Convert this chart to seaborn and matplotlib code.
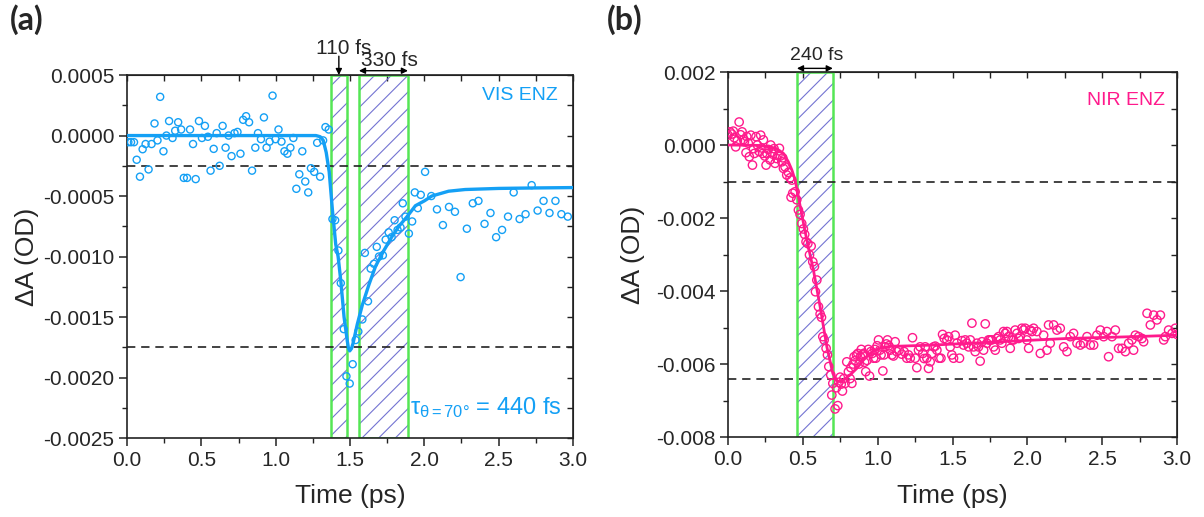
import numpy as np
import matplotlib
matplotlib.use("Agg")
import matplotlib.pyplot as plt
import seaborn as sns
from matplotlib.ticker import MultipleLocator, FormatStrFormatter

# ---- data (values in mOD, times in ps) ----
vis_t = [0.009, 0.027, 0.047, 0.065, 0.087, 0.105, 0.125, 0.145, 0.165, 0.185,
         0.205, 0.223, 0.245, 0.265, 0.283, 0.306, 0.324, 0.344, 0.364, 0.382,
         0.404, 0.424, 0.444, 0.462, 0.484, 0.504, 0.524, 0.544, 0.562, 0.583,
         0.603, 0.623, 0.643, 0.663, 0.683, 0.703, 0.723, 0.743, 0.763, 0.781,
         0.801, 0.821, 0.841, 0.863, 0.881, 0.901, 0.921, 0.939, 0.959, 0.979,
         0.999, 1.019, 1.039, 1.059, 1.079, 1.099, 1.119, 1.139, 1.159, 1.179,
         1.199, 1.219, 1.237, 1.259, 1.279, 1.299, 1.319, 1.335, 1.357, 1.382,
         1.400, 1.422, 1.438, 1.458, 1.476, 1.498, 1.518, 1.538, 1.556, 1.583,
         1.600, 1.621, 1.639, 1.661, 1.680, 1.695, 1.721, 1.740, 1.760, 1.780,
         1.800, 1.820, 1.840, 1.855, 1.873, 1.896, 1.918, 1.936, 1.956, 1.976,
         2.005, 2.047, 2.085, 2.125, 2.166, 2.206, 2.244, 2.286, 2.326, 2.364,
         2.405, 2.445, 2.483, 2.523, 2.563, 2.601, 2.641, 2.681, 2.722, 2.762,
         2.802, 2.842, 2.882, 2.922, 2.965]
vis_dA = [-0.055, -0.055, -0.055, -0.20, -0.34, -0.113, -0.07, -0.28, -0.07, 0.10,
          -0.04, 0.32, -0.13, 0.00, 0.12, -0.02, 0.04, 0.11, 0.05, -0.35,
          -0.35, 0.05, -0.07, -0.36, 0.12, -0.02, 0.08, -0.01, -0.29, -0.11,
          0.02, -0.25, 0.08, -0.10, 0.00, -0.17, 0.02, 0.03, -0.15, 0.13,
          0.16, 0.11, -0.29, -0.10, 0.02, -0.03, 0.15, -0.10, -0.05, 0.33,
          -0.03, 0.05, -0.05, -0.13, -0.15, -0.10, -0.02, -0.44, -0.32, -0.13,
          -0.38, -0.47, -0.27, -0.30, -0.06, -0.34, -0.04, 0.07, 0.05, -0.69,
          -0.70, -0.95, -1.22, -1.60, -1.99, -2.05, -1.89, -1.69, -1.62, -1.52,
          -0.97, -1.37, -1.10, -1.06, -0.92, -1.00, -0.99, -0.86, -0.80, -0.84,
          -0.70, -0.78, -0.76, -0.56, -0.67, -0.81, -0.71, -0.47, -0.60, -0.49,
          -0.30, -0.50, -0.61, -0.74, -0.59, -0.63, -1.17, -0.77, -0.56, -0.54,
          -0.73, -0.64, -0.84, -0.78, -0.67, -0.47, -0.69, -0.65, -0.41, -0.62,
          -0.54, -0.64, -0.54, -0.65, -0.67]

vis_fit_t = [0.0, 1.27, 1.28, 1.30, 1.32, 1.34, 1.36, 1.382, 1.404, 1.42, 1.438,
             1.46, 1.482, 1.49, 1.498, 1.51, 1.52, 1.549, 1.583, 1.628, 1.672,
             1.728, 1.78, 1.829, 1.884, 1.94, 2.0, 2.05, 2.163, 2.275, 2.5, 2.75, 3.0]
vis_fit = [0.0, 0.0, -0.003, -0.01, -0.04, -0.14, -0.30, -0.62, -0.90, -1.00, -1.20,
           -1.50, -1.70, -1.76, -1.78, -1.76, -1.72, -1.56, -1.40, -1.23, -1.08,
           -0.95, -0.84, -0.75, -0.67, -0.58, -0.54, -0.50, -0.46, -0.446, -0.437, -0.433, -0.43]

nir_t = [0.000, 0.013, 0.025, 0.035, 0.042, 0.051, 0.062, 0.074, 0.084, 0.094,
         0.104, 0.109, 0.120, 0.125, 0.135, 0.142, 0.152, 0.163, 0.170, 0.176,
         0.187, 0.196, 0.209, 0.218, 0.225, 0.232, 0.236, 0.245, 0.254, 0.259,
         0.268, 0.281, 0.285, 0.292, 0.299, 0.307, 0.314, 0.325, 0.333, 0.343,
         0.350, 0.359, 0.365, 0.370, 0.381, 0.392, 0.403, 0.414, 0.421, 0.426,
         0.432, 0.448, 0.459, 0.470, 0.481, 0.492, 0.503, 0.512, 0.521, 0.533,
         0.544, 0.555, 0.566, 0.577, 0.584, 0.593, 0.604, 0.615, 0.624, 0.633,
         0.642, 0.655, 0.664, 0.673, 0.686, 0.693, 0.700, 0.715, 0.724, 0.733,
         0.740, 0.749, 0.756, 0.764, 0.773, 0.782, 0.793, 0.804, 0.815, 0.820,
         0.827, 0.835, 0.842, 0.850, 0.858, 0.867, 0.875, 0.884, 0.890, 0.898,
         0.905, 0.912, 0.920, 0.928, 0.937, 0.945, 0.954, 0.963, 0.972, 0.980,
         0.987, 0.996, 1.005, 1.014, 1.022, 1.034, 1.042, 1.050, 1.058, 1.065,
         1.074, 1.083, 1.094, 1.105, 1.116, 1.127, 1.143, 1.161, 1.176, 1.194,
         1.205, 1.217, 1.232, 1.250, 1.261, 1.272, 1.283, 1.301, 1.310, 1.317,
         1.328, 1.339, 1.350, 1.361, 1.373, 1.384, 1.395, 1.410, 1.422, 1.433,
         1.444, 1.462, 1.473, 1.484, 1.495, 1.506, 1.517, 1.529, 1.546, 1.562,
         1.573, 1.584, 1.595, 1.607, 1.618, 1.629, 1.640, 1.651, 1.662, 1.673,
         1.684, 1.696, 1.707, 1.718, 1.729, 1.740, 1.751, 1.762, 1.774, 1.785,
         1.796, 1.807, 1.818, 1.829, 1.840, 1.852, 1.863, 1.874, 1.885, 1.896,
         1.907, 1.918, 1.930, 1.941, 1.952, 1.963, 1.974, 1.985, 1.996, 2.008,
         2.019, 2.030, 2.041, 2.063, 2.086, 2.108, 2.130, 2.141, 2.152, 2.175,
         2.197, 2.219, 2.242, 2.264, 2.286, 2.308, 2.331, 2.353, 2.375, 2.398,
         2.420, 2.442, 2.464, 2.487, 2.509, 2.531, 2.542, 2.565, 2.587, 2.609,
         2.632, 2.654, 2.676, 2.698, 2.709, 2.721, 2.743, 2.765, 2.776, 2.799,
         2.821, 2.843, 2.865, 2.888, 2.910, 2.921, 2.943, 2.966, 2.988, 3.000]
nir_dA = [0.27, 0.36, 0.30, 0.38, 0.20, -0.05, 0.12, 0.63, 0.28, 0.36,
          0.15, 0.09, -0.21, 0.23, 0.05, -0.32, 0.27, -0.55, -0.10, -0.23,
          0.23, 0.00, -0.18, 0.27, -0.08, -0.23, 0.14, -0.30, -0.55, -0.23,
          -0.12, -0.41, 0.00, -0.20, -0.25, -0.10, -0.50, -0.37, -0.28, -0.09,
          -0.30, -0.46, -0.35, -0.64, -0.60, -0.82, -0.75, -0.90, -1.43, -0.96,
          -1.32, -1.28, -1.50, -1.78, -1.90, -2.15, -2.30, -2.45, -2.65, -2.70,
          -3.01, -2.77, -3.20, -3.33, -4.02, -3.70, -4.43, -4.63, -4.72, -5.25,
          -5.34, -5.57, -5.75, -6.07, -6.30, -6.85, -6.53, -7.23, -6.65, -7.14,
          -6.50, -6.36, -6.55, -6.74, -6.40, -6.53, -5.94, -6.21, -6.40, -6.10,
          -6.53, -6.00, -5.80, -5.90, -5.75, -5.71, -6.00, -5.80, -5.60, -5.75,
          -5.71, -5.95, -6.21, -5.90, -5.60, -6.33, -5.66, -5.71, -5.84, -5.60,
          -5.84, -5.50, -5.34, -5.62, -5.75, -6.19, -5.75, -5.53, -5.45, -5.34,
          -5.50, -5.62, -5.75, -5.78, -5.39, -5.66, -5.62, -5.73, -5.66, -5.84,
          -5.75, -5.84, -5.28, -5.84, -6.10, -5.62, -5.53, -5.71, -5.85, -5.53,
          -5.84, -6.12, -5.94, -5.71, -5.53, -5.51, -5.62, -5.84, -5.84, -5.19,
          -5.30, -5.34, -5.25, -5.53, -5.75, -5.84, -5.21, -5.43, -5.84, -5.36,
          -5.48, -5.34, -5.43, -5.53, -5.34, -4.88, -5.53, -5.66, -5.43, -5.53,
          -5.92, -5.39, -5.62, -4.90, -5.43, -5.34, -5.34, -5.34, -5.53, -5.62,
          -5.30, -5.25, -5.34, -5.43, -5.11, -5.16, -5.11, -5.25, -5.57, -5.34,
          -5.34, -5.07, -5.16, -5.30, -5.25, -5.02, -5.07, -5.02, -5.34, -5.57,
          -5.07, -5.11, -5.02, -5.11, -5.71, -5.21, -5.62, -4.93, -5.43, -4.93,
          -5.07, -5.02, -5.53, -5.66, -5.25, -5.16, -5.43, -5.48, -5.43, -5.25,
          -5.48, -5.48, -5.21, -5.07, -5.25, -5.11, -5.80, -5.25, -5.07, -5.57,
          -5.57, -5.66, -5.43, -5.34, -5.62, -5.21, -5.25, -5.30, -5.39, -4.61,
          -4.93, -4.66, -4.79, -4.66, -5.34, -5.25, -5.07, -5.16, -5.02, -5.19]

nir_fit_t = [0.0, 0.2, 0.28, 0.325, 0.37, 0.403, 0.426, 0.448, 0.47, 0.493, 0.526,
             0.57, 0.615, 0.66, 0.70, 0.72, 0.737, 0.755, 0.77, 0.79, 0.815, 0.84,
             0.86, 0.883, 0.905, 0.93, 0.949, 0.98, 1.016, 1.06, 1.105, 1.15,
             1.372, 1.818, 2.264, 2.71, 3.0]
nir_fit = [0.0, -0.01, -0.05, -0.10, -0.23, -0.46, -0.68, -0.96, -1.42, -1.92, -2.60,
           -3.42, -4.43, -5.53, -6.26, -6.42, -6.48, -6.48, -6.44, -6.38, -6.30, -6.20,
           -6.12, -6.00, -5.89, -5.79, -5.71, -5.63, -5.57, -5.53, -5.51, -5.51,
           -5.48, -5.39, -5.30, -5.25, -5.21]

vis_bands = [(1.37, 1.48), (1.56, 1.89)]
nir_bands = [(0.46, 0.70)]
vis_levels = [-0.25, -1.75]
nir_levels = [-1.0, -6.42]

VIS_C = "#14A0F5"
NIR_C = "#FF1A8C"
GREEN = "#55E655"
HATCH_C = "#7474D2"

sns.set_style("ticks")
plt.rcParams["font.family"] = ["Liberation Sans", "DejaVu Sans"]
plt.rcParams["mathtext.fontset"] = "custom"
plt.rcParams["mathtext.rm"] = "Liberation Sans"
plt.rcParams["mathtext.it"] = "Liberation Sans"
plt.rcParams["axes.unicode_minus"] = False
plt.rcParams["hatch.linewidth"] = 0.8

fig = plt.figure(figsize=(12.04, 5.17), dpi=100)
ax1 = fig.add_axes([0.1055, 0.1528, 0.3704, 0.702])
ax2 = fig.add_axes([0.6047, 0.1547, 0.3730, 0.706])


def style_axes(ax, ymin, ymax, ymajor, yminor, yfmt):
    ax.set_xlim(0, 3.0)
    ax.set_ylim(ymin, ymax)
    ax.xaxis.set_major_locator(MultipleLocator(0.5))
    ax.xaxis.set_minor_locator(MultipleLocator(0.25))
    ax.yaxis.set_major_locator(MultipleLocator(ymajor))
    ax.yaxis.set_minor_locator(MultipleLocator(yminor))
    ax.xaxis.set_major_formatter(FormatStrFormatter("%.1f"))
    ax.yaxis.set_major_formatter(FormatStrFormatter(yfmt))
    for sp in ax.spines.values():
        sp.set_visible(True)
        sp.set_linewidth(1.2)
        sp.set_color("#222222")
    ax.tick_params(which="major", direction="out", length=6, width=1.1,
                   labelsize=15, pad=3, color="#222222")
    ax.tick_params(which="minor", direction="out", length=3.5, width=1.0,
                   color="#222222")
    top = ax.secondary_xaxis("top")
    top.xaxis.set_major_locator(MultipleLocator(0.25))
    top.tick_params(direction="in", length=4, width=1.0, labeltop=False,
                    color="#222222")
    right = ax.secondary_yaxis("right")
    right.yaxis.set_major_locator(MultipleLocator(yminor))
    right.tick_params(direction="in", length=4, width=1.0, labelright=False,
                      color="#222222")
    ax.set_xlabel("Time (ps)", fontsize=19)
    ax.set_ylabel("\u0394A (OD)", fontsize=19)
    ax.xaxis.set_label_coords(0.5, -0.128)


def bands(ax, spans):
    for x0, x1 in spans:
        ax.axvspan(x0, x1, facecolor="none", edgecolor=HATCH_C, hatch="//",
                   linewidth=0, zorder=1)
        ax.axvspan(x0, x1, facecolor="none", edgecolor=GREEN, linewidth=1.8,
                   zorder=2)


# ---- panel (a) ----
bands(ax1, vis_bands)
for lv in vis_levels:
    ax1.axhline(lv * 1e-3, color="#222222", lw=1.2, ls=(0, (5, 3.5)), zorder=3)
sns.scatterplot(x=vis_t, y=np.array(vis_dA) * 1e-3, ax=ax1, marker="o", s=26,
                facecolors="none", edgecolor=VIS_C, linewidth=1.0, zorder=4)
sns.lineplot(x=vis_fit_t, y=np.array(vis_fit) * 1e-3, ax=ax1, color=VIS_C,
             lw=2.4, estimator=None, sort=False, zorder=5)
style_axes(ax1, -0.0025, 0.0005, 0.0005, 0.00025, "%.4f")
ax1.yaxis.set_label_coords(-0.198, 0.5)

tr1 = ax1.get_xaxis_transform()
ax1.annotate("", xy=(1.425, 1.0), xycoords=tr1, xytext=(1.425, 1.052),
             textcoords=tr1, annotation_clip=False,
             arrowprops=dict(arrowstyle="-|>", color="k", lw=1.0,
                             mutation_scale=9, shrinkA=0, shrinkB=0))
ax1.text(1.46, 1.074, "110 fs", transform=tr1, ha="center", va="center",
         fontsize=15)
ax1.annotate("", xy=(1.56, 1.012), xycoords=tr1, xytext=(1.89, 1.012),
             textcoords=tr1, annotation_clip=False,
             arrowprops=dict(arrowstyle="<|-|>", color="k", lw=1.0,
                             mutation_scale=9, shrinkA=0, shrinkB=0))
ax1.text(1.768, 1.041, "330 fs", transform=tr1, ha="center", va="center",
         fontsize=15)
ax1.text(0.966, 0.945, "VIS ENZ", transform=ax1.transAxes, ha="right",
         va="center", fontsize=14, color=VIS_C)
ax1.text(0.975, 0.083, r"$\tau_{\theta=70°}$ = 440 fs", transform=ax1.transAxes,
         ha="right", va="center", fontsize=17, color=VIS_C)

# ---- panel (b) ----
bands(ax2, nir_bands)
for lv in nir_levels:
    ax2.axhline(lv * 1e-3, color="#222222", lw=1.2, ls=(0, (5, 3.5)), zorder=3)
sns.scatterplot(x=nir_t, y=np.array(nir_dA) * 1e-3, ax=ax2, marker="o", s=36,
                facecolors="none", edgecolor=NIR_C, linewidth=1.0, zorder=4)
sns.lineplot(x=nir_fit_t, y=np.array(nir_fit) * 1e-3, ax=ax2, color=NIR_C,
             lw=2.0, estimator=None, sort=False, zorder=5)
style_axes(ax2, -0.008, 0.002, 0.002, 0.001, "%.3f")
ax2.yaxis.set_label_coords(-0.185, 0.5)

tr2 = ax2.get_xaxis_transform()
ax2.annotate("", xy=(0.46, 1.010), xycoords=tr2, xytext=(0.70, 1.010),
             textcoords=tr2, annotation_clip=False,
             arrowprops=dict(arrowstyle="<|-|>", color="k", lw=1.0,
                             mutation_scale=9, shrinkA=0, shrinkB=0))
ax2.text(0.593, 1.044, "240 fs", transform=tr2, ha="center", va="center",
         fontsize=14)
ax2.text(0.973, 0.923, "NIR ENZ", transform=ax2.transAxes, ha="right",
         va="center", fontsize=14, color=NIR_C)

fig.text(0.008, 0.962, "(a)", fontsize=23, fontweight="bold", family="Lato",
         va="center", ha="left")
fig.text(0.504, 0.962, "(b)", fontsize=23, fontweight="bold", family="Lato",
         va="center", ha="left")

fig.savefig("out.png", dpi=100)
